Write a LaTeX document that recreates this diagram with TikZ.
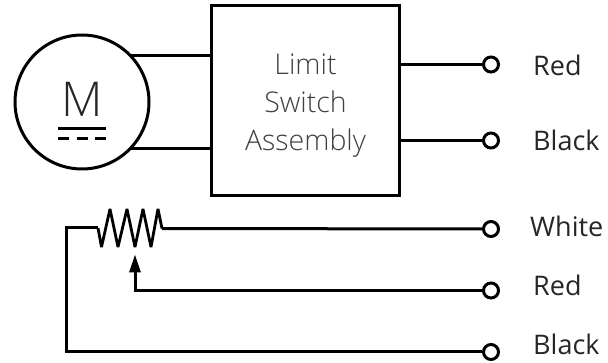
\documentclass[tikz,border=0pt]{standalone}
\usepackage{fontspec}
\setmainfont{Open Sans Light}
\newfontfamily\labelfont{Open Sans}
\usetikzlibrary{arrows.meta}
\tikzset{
  wire/.style={line width=3pt,black,line cap=butt,line join=miter},
  zig/.style={line width=2.8pt,black,line join=bevel},
  term/.style={circle,draw=black,line width=3pt,fill=white,minimum size=15pt,inner sep=0pt},
  lab/.style={anchor=west,inner sep=0pt,font=\labelfont\fontsize{27}{27}\selectfont,text=black!85},
  boxtxt/.style={align=center,inner sep=0pt,font=\fontsize{28.5}{38}\selectfont,text=black!75}
}
\begin{document}
\begin{tikzpicture}[x=1pt,y=-1pt]
\useasboundingbox (0,0) rectangle (608,363);
\node[draw=black,line width=3pt,minimum width=188pt,minimum height=190pt,inner sep=0pt] (box) at (305.5,101) {};
\node[boxtxt] (boxlabel) at (305.5,106) {Limit\\Switch\\Assembly};
\node[circle,draw=black,line width=3pt,minimum size=134pt,inner sep=0pt] (motor) at (82,102) {};
\node[inner sep=0pt,font=\fontsize{48}{48}\selectfont,text=black!85] (m) at (82,99.5) {M};
\coordinate (ml1) at (58,128.5); \coordinate (ml2) at (106,128.5);
\coordinate (md1) at (58,139); \coordinate (md2) at (106,139);
\draw[line width=3pt] (ml1) -- (ml2);
\draw[line width=3pt,dash pattern=on 11pt off 7.5pt] (md1) -- (md2);
% motor wires
\coordinate (a1) at (131,56); \coordinate (a2) at (131,148.5);
\draw[wire] (a1) -- (a1 -| box.west);
\draw[wire] (a2) -- (a2 -| box.west);
% terminals
\node[term] (t1) at (491,64.5) {};
\node[term] (t2) at (491,140.5) {};
\node[term] (t3) at (491,229) {};
\node[term] (t4) at (491,290.5) {};
\node[term] (t5) at (491,352) {};
\draw[wire] (t1 -| box.east) -- (t1);
\draw[wire] (t2 -| box.east) -- (t2);
% labels
\node[lab] at (533,65.5) {Red};
\node[lab] at (533,140.5) {Black};
\node[lab] at (530,226) {White};
\node[lab] at (533,285.5) {Red};
\node[lab] at (533,344.5) {Black};
% potentiometer
\coordinate (c) at (66,228);
\coordinate (zs) at (98,228);
\coordinate (ze) at (162,228.5);
\coordinate (wipe) at (135,255);
\draw[wire] (t5) -- (66,352) -- (c) -- (zs);
\draw[zig] (zs) -- (101.5,247) -- (110,209) -- (118,247) -- (127,209) -- (135,247) -- (143,209) -- (151,247) -- (158,209) -- (ze);
\draw[wire] (ze) -- (t3);
\draw[wire] (t4) -- (135,290.5) -- (135,270);
\path[fill=black] (wipe) -- (141,272.5) -- (129,272.5) -- cycle;
\end{tikzpicture}
\end{document}
